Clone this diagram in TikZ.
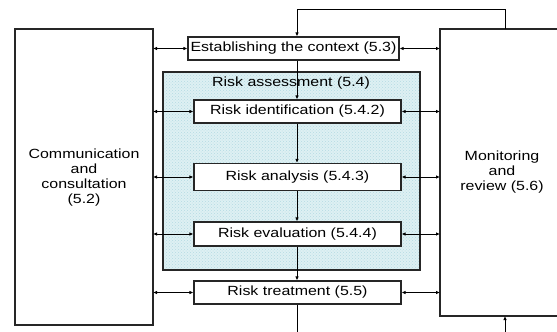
\documentclass[tikz,border=0pt]{standalone}
\usepackage{fontspec}
\setmainfont{Liberation Sans}[FakeStretch=1.2]
\usetikzlibrary{arrows.meta,patterns}
\definecolor{shade}{RGB}{222,240,243}
\definecolor{dots}{RGB}{180,219,226}
\begin{document}
\begin{tikzpicture}[x=1pt,y=-1pt,
  line width=1.1pt,
  box/.style={draw=black!85,fill=white,line width=1.1pt},
  lbl/.style={font=\fontsize{13.3}{15}\selectfont,inner sep=0pt},
  arr/.style={line width=0.9pt,-{Latex[length=4pt,width=3.5pt]}},
  darr/.style={line width=0.9pt,{Latex[length=4pt,width=3.5pt]}-{Latex[length=4pt,width=3.5pt]}}]
\useasboundingbox (0,0) rectangle (557,332);
% side boxes
\draw[box] (15,29) rectangle (153,325);
\draw[box] (440,29) rectangle (562,316);
\node[lbl,align=center] (commtxt) at (84,178) {Communication\\and\\consultation\\(5.2)};
\node[lbl,align=center] (montxt) at (502,172) {Monitoring\\and\\review (5.6)};
% risk assessment area
\draw[draw=black!85,line width=1.1pt,fill=shade] (163,72) rectangle (420,270);
\fill[pattern=crosshatch dots,pattern color=dots] (163.6,72.6) rectangle (419.4,269.4);
\draw[draw=black!85,line width=1.1pt] (163,72) rectangle (420,270);
\node[lbl] (ra) at (291,83) {Risk assessment (5.4)};
% process boxes
\node[box,lbl,minimum width=211pt,minimum height=23pt] (est) at (293.5,48.5) {Establishing the context (5.3)};
\node[box,lbl,minimum width=207pt,minimum height=23pt] (rid) at (297.5,111.5) {Risk identification (5.4.2)};
\node[box,lbl,minimum width=207pt,minimum height=27pt] (ran) at (297.5,177) {Risk analysis (5.4.3)};
\node[box,lbl,minimum width=207pt,minimum height=24pt] (rev) at (297.5,234) {Risk evaluation (5.4.4)};
\node[box,lbl,minimum width=207pt,minimum height=23pt] (rtr) at (297.5,292.5) {Risk treatment (5.5)};
% points on the side boxes
\coordinate (L1) at (153,48.5); \coordinate (R1) at (440,48.5);
\coordinate (L2) at (153,111.5); \coordinate (R2) at (440,111.5);
\coordinate (L3) at (153,177); \coordinate (R3) at (440,177);
\coordinate (L4) at (153,234); \coordinate (R4) at (440,234);
\coordinate (L5) at (153,292.5); \coordinate (R5) at (440,292.5);
\foreach \i/\n in {1/est,2/rid,3/ran,4/rev,5/rtr}{
  \draw[darr] (L\i) -- (\n.west |- L\i);
  \draw[darr] (\n.east |- R\i) -- (R\i);
}
% vertical flow
\coordinate (col) at (297,0);
\draw[arr] (col |- est.south) -- (col |- rid.north);
\draw[arr] (col |- rid.south) -- (col |- ran.north);
\draw[arr] (col |- ran.south) -- (col |- rev.north);
\draw[arr] (col |- rev.south) -- (col |- rtr.north);
% feedback loops
\coordinate (montop) at (505,29);
\coordinate (monbot) at (505,316);
\coordinate (topL) at (297,9);
\coordinate (topR) at (505,9);
\draw[arr] (montop) -- (topR) -- (topL) -- (col |- est.north);
\coordinate (botL) at (297,332.5);
\coordinate (botR) at (505,332.5);
\draw[arr] (col |- rtr.south) -- (botL) -- (botR) -- (monbot);
\end{tikzpicture}
\end{document}
